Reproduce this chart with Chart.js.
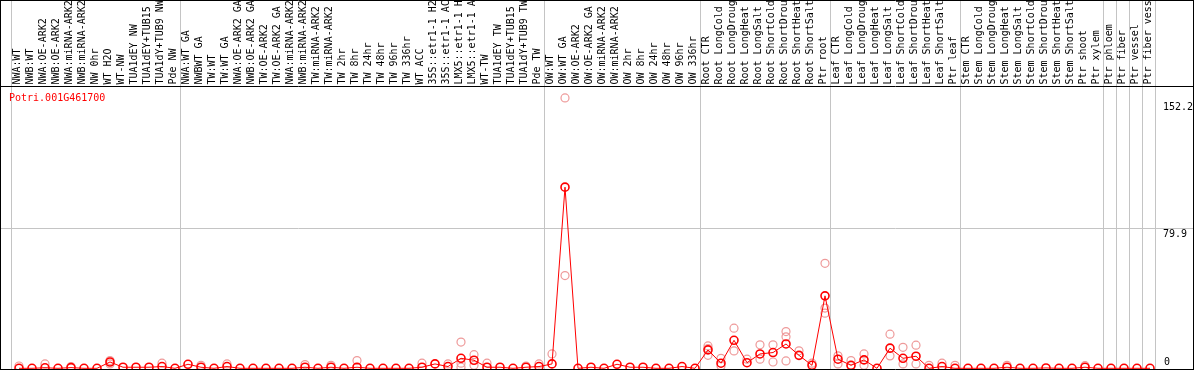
<!DOCTYPE html>
<html><head><meta charset="utf-8">
<script src="https://cdn.jsdelivr.net/npm/chart.js@4/dist/chart.umd.min.js"></script>
<style>html,body{margin:0;padding:0;background:#fff;overflow:hidden}#wrap{width:1194px;height:370px;position:relative}</style>
</head><body><div id="wrap"><canvas id="c" width="1194" height="370"></canvas></div>
<script>
const title = 'Potri.001G461700';
const categories = [
'NWA:WT','NWB:WT','NWA:OE-ARK2','NWB:OE-ARK2','NWA:miRNA-ARK2','NWB:miRNA-ARK2','NW 0hr','WT H2O','WT-NW','TUA1dEY NW','TUA1dEY+TUB15 NW','TUA1dY+TUB9 NW','Pde NW',
'NWA:WT GA','NWBWT GA','TW:WT','TW:WT GA','NWA:OE-ARK2 GA','NWB:OE-ARK2 GA','TW:OE-ARK2','TW:OE-ARK2 GA','NWA:miRNA-ARK2','NWB:miRNA-ARK2','TW:miRNA-ARK2','TW:miRNA-ARK2','TW 2hr','TW 8hr','TW 24hr','TW 48hr','TW 96hr','TW 336hr','WT ACC','35S::etr1-1 H2O','35S::etr1-1 ACC','LMX5::etr1-1 H2O','LMX5::etr1-1 ACC','WT-TW','TUA1dEY TW','TUA1dEY+TUB15 TW','TUA1dY+TUB9 TW','Pde TW',
'OW:WT','OW:WT GA','OW:OE-ARK2','OW:OE-ARK2 GA','OW:miRNA-ARK2','OW:miRNA-ARK2','OW 2hr','OW 8hr','OW 24hr','OW 48hr','OW 96hr','OW 336hr',
'Root CTR','Root LongCold','Root LongDrought','Root LongHeat','Root LongSalt','Root ShortCold','Root ShortDrought','Root ShortHeat','Root ShortSalt','Ptr root',
'Leaf CTR','Leaf LongCold','Leaf LongDrought','Leaf LongHeat','Leaf LongSalt','Leaf ShortCold','Leaf ShortDrought','Leaf ShortHeat','Leaf ShortSalt','Ptr leaf',
'Stem CTR','Stem LongCold','Stem LongDrought','Stem LongHeat','Stem LongSalt','Stem ShortCold','Stem ShortDrought','Stem ShortHeat','Stem ShortSalt','Ptr shoot','Ptr xylem',
'Ptr phloem','Ptr fiber','Ptr vessel','Ptr fiber vessel'
];
const means = [
0,0,0.3,0,0.4,0,0,3.6,0.6,0.6,0.6,1.0,0,
2.3,0.6,0,1.0,0,0,0,0,0,0.6,0,0.6,0,0.6,0,0,0,0,0.6,2.5,1.0,5.7,4.6,0.6,0.6,0,0.6,1.0,
2.5,103.5,0,0.6,0,2.3,0.6,0.6,0,0,1.0,0,
10.5,2.9,16,3.2,8.2,9,13.9,7.4,1.7,41.4,
5.2,1.7,4.8,0,11.5,5.7,6.9,0,1.0,0,
0,0,0,0.6,0,0,0.2,0,0,0.6,0,
0,0,0,0
];
const rep1 = [
1.3,null,2.5,null,1.0,null,null,4.4,null,null,null,2.9,null,
null,1.7,null,2.5,null,null,null,null,null,2.1,null,1.7,null,4.4,null,null,null,null,2.9,null,2.5,15,7.8,2.9,null,null,1.3,2.5,
8.2,154.5,null,null,null,null,null,null,null,null,null,null,
12.8,5.7,22.9,5.2,13.4,13.4,21,10,2.9,60,
7.1,4.4,8.2,null,19.5,12,13.2,1.7,2.9,1.7,
null,null,null,1.7,null,null,null,null,null,1.5,null,
null,null,null,null
];
const rep2 = [
null,null,null,null,null,null,null,2.5,null,null,null,null,null,
null,null,null,null,null,null,null,null,null,null,null,null,null,null,null,null,null,null,null,null,null,2.9,1.7,null,null,null,null,null,
null,53,null,null,null,null,null,null,null,null,null,null,
7.4,1.3,9.9,null,5.2,3.6,18,null,null,34.4,
2.5,1.3,1.7,null,7.1,2.5,2.5,null,null,null,
null,null,null,null,null,null,null,null,null,null,null,
null,null,null,null
];
const rep3 = [
null,null,null,null,null,null,null,null,null,null,null,null,null,
null,null,null,null,null,null,null,null,null,null,null,null,null,null,null,null,null,null,null,null,null,0.6,null,null,null,null,null,null,
null,null,null,null,null,null,null,null,null,null,null,null,
11.3,null,null,null,null,null,4.2,null,null,31.5,
null,null,null,null,null,null,null,null,null,null,
null,null,null,null,null,null,null,null,null,null,null,
null,null,null,null
];
const yTicks = [0, 79.9, 152.2];
const yMax = 161.3;
const groupEnds = [-1, 12, 40, 52, 62, 72, 83, 84, 85, 86, 87];

const FONT = '10px "DejaVu Sans Mono", monospace';

const decor = {
  id: 'decor',
  beforeDraw(chart) {
    const ctx = chart.ctx;
    ctx.save();
    ctx.fillStyle = '#ffffff';
    ctx.fillRect(0, 0, chart.width, chart.height);
    ctx.restore();
  },
  beforeDatasetsDraw(chart) {
    const ctx = chart.ctx, xs = chart.scales.x, ys = chart.scales.y;
    const step = xs.getPixelForValue(1) - xs.getPixelForValue(0);
    ctx.save();
    ctx.strokeStyle = '#c4c4c4';
    ctx.lineWidth = 1;
    groupEnds.forEach(g => {
      const x = Math.round(xs.getPixelForValue(g) + step / 2 - 1.2) + 0.5;
      ctx.beginPath(); ctx.moveTo(x, 0); ctx.lineTo(x, 369); ctx.stroke();
    });
    const gy = Math.round(ys.getPixelForValue(yTicks[1])) + 0.5;
    ctx.beginPath(); ctx.moveTo(0, gy); ctx.lineTo(chart.width, gy); ctx.stroke();
    ctx.fillStyle = '#000';
    ctx.font = FONT;
    ctx.textAlign = 'left';
    ctx.textBaseline = 'middle';
    categories.forEach((lab, i) => {
      const x = xs.getPixelForValue(i) - 1.5;
      ctx.save();
      ctx.beginPath(); ctx.rect(0, 0, chart.width, 86); ctx.clip();
      ctx.translate(x, 84.5);
      ctx.rotate(-Math.PI / 2);
      ctx.fillText(lab, 0, 0);
      ctx.restore();
    });
    ctx.fillStyle = '#ff0000';
    ctx.textBaseline = 'alphabetic';
    ctx.fillText(title, 9, 101);
    ctx.fillStyle = '#000';
    yTicks.forEach((v, k) => {
      const y = ys.getPixelForValue(v);
      if (k === 0) { ctx.textBaseline = 'bottom'; ctx.fillText(String(v), 1164, y - 0.5); }
      else { ctx.textBaseline = 'top'; ctx.fillText(String(v), 1163, y + 0.5); }
    });
    ctx.restore();
  },
  afterDatasetsDraw(chart) {
    const ctx = chart.ctx;
    ctx.save();
    ctx.strokeStyle = '#000';
    ctx.lineWidth = 1;
    ctx.beginPath();
    ctx.moveTo(0, 0.5); ctx.lineTo(1194, 0.5);
    ctx.moveTo(0, 86.5); ctx.lineTo(1194, 86.5);
    ctx.moveTo(0, 369.5); ctx.lineTo(1194, 369.5);
    ctx.moveTo(0.5, 0); ctx.lineTo(0.5, 370);
    ctx.moveTo(1193.5, 0); ctx.lineTo(1193.5, 370);
    ctx.stroke();
    ctx.restore();
  }
};

const repStyle = {
  showLine: false,
  pointRadius: 4,
  pointBorderWidth: 1.2,
  pointBorderColor: '#ee9a9a',
  pointBackgroundColor: 'rgba(0,0,0,0)',
  borderColor: '#ee9a9a',
  clip: false
};

new Chart(document.getElementById('c'), {
  type: 'line',
  data: {
    labels: categories,
    datasets: [
      { label: 'mean', data: means, borderColor: '#ff0000', borderWidth: 1, pointRadius: 4,
        pointBorderWidth: 1.6, pointBorderColor: '#ff0000', pointBackgroundColor: 'rgba(0,0,0,0)',
        tension: 0, clip: false },
      Object.assign({ label: 'rep1', data: rep1 }, repStyle),
      Object.assign({ label: 'rep2', data: rep2 }, repStyle),
      Object.assign({ label: 'rep3', data: rep3 }, repStyle)
    ]
  },
  options: {
    responsive: false,
    devicePixelRatio: 1,
    animation: false,
    events: [],
    layout: { autoPadding: false, padding: { left: 12.5, right: 37.5, top: 86, bottom: 1.7 } },
    plugins: { legend: { display: false }, tooltip: { enabled: false } },
    scales: {
      x: { type: 'category', offset: true, display: false },
      y: { min: 0, max: yMax, display: false }
    }
  },
  plugins: [decor]
});
</script>
</body></html>
